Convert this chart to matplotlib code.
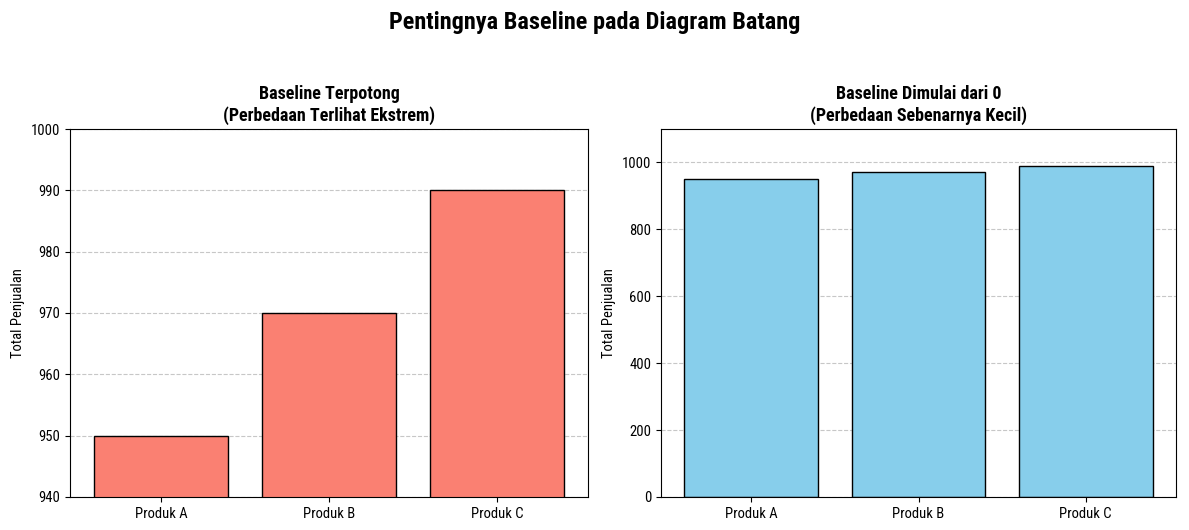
import matplotlib.pyplot as plt

plt.rcParams['font.family'] = ['Roboto Condensed', 'DejaVu Sans']

produk = ['Produk A', 'Produk B', 'Produk C']
penjualan = [950, 970, 990]

fig = plt.figure(figsize=(11.89, 5.3), dpi=100)
ax1 = fig.add_axes([0.0589, 0.0623, 0.4356, 0.6943])
ax2 = fig.add_axes([0.5559, 0.0623, 0.4332, 0.6943])

# baseline terpotong
ax1.bar(produk, penjualan, color='salmon', edgecolor='black')
ax1.set_ylim(940, 1000)
ax1.set_title('Baseline Terpotong\n(Perbedaan Terlihat Ekstrem)', fontsize=13, fontweight='bold')
ax1.set_ylabel('Total Penjualan', fontsize=10.5)
ax1.grid(axis='y', linestyle='--', alpha=0.7)
ax1.set_axisbelow(True)

# baseline dari 0
ax2.bar(produk, penjualan, color='skyblue', edgecolor='black')
ax2.set_ylim(0, 1100)
ax2.set_title('Baseline Dimulai dari 0\n(Perbedaan Sebenarnya Kecil)', fontsize=13, fontweight='bold')
ax2.set_ylabel('Total Penjualan', fontsize=10.5)
ax2.grid(axis='y', linestyle='--', alpha=0.7)
ax2.set_axisbelow(True)

for ax in (ax1, ax2):
    ax.tick_params(labelsize=10.5)

fig.suptitle('Pentingnya Baseline pada Diagram Batang', fontsize=17.5, fontweight='bold', y=0.98)
fig.savefig('out.png', dpi=100)
